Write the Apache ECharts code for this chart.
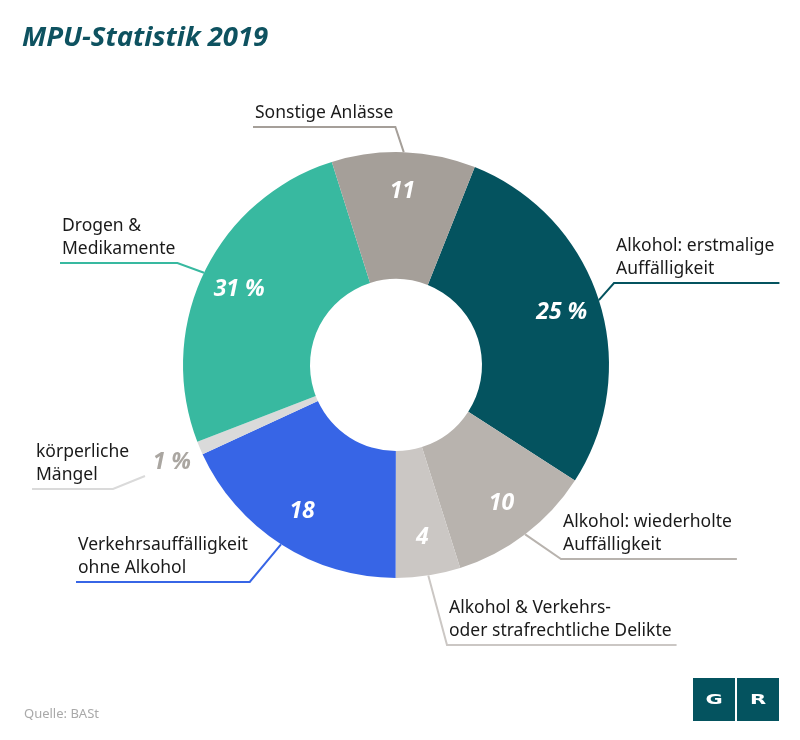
<!DOCTYPE html>
<html>
<head>
<meta charset="utf-8">
<script src="https://cdn.jsdelivr.net/npm/echarts@6/dist/echarts.min.js"></script>
<style>
  html, body { margin: 0; padding: 0; background: #ffffff; }
  #chart { width: 800px; height: 740px; }
</style>
</head>
<body>
<div id="chart"></div>
<script>
// ---- data ----
const categories = [
  'Alkohol: erstmalige\nAuffälligkeit',
  'Alkohol: wiederholte\nAuffälligkeit',
  'Alkohol & Verkehrs-\noder strafrechtliche Delikte',
  'Verkehrsauffälligkeit\nohne Alkohol',
  'körperliche\nMängel',
  'Drogen &\nMedikamente',
  'Sonstige Anlässe'
];
// numbers printed on the chart (percent)
const printedValues = [25, 10, 4, 18, 1, 31, 11];
const printedWithPercent = [true, false, false, false, true, true, false];
// slice sizes as drawn in the reference (percent)
const sliceShares = [28.1, 11, 4.9, 18.1, 1, 26, 10.9];

// ---- styles / layout ----
const sliceColors = ['#04535f', '#b8b3ae', '#cbc7c4', '#3765e6', '#dadada', '#38b9a0', '#a59f99'];
const CX = 396, CY = 365, R_IN = 86, R_OUT = 213;
// outer label anchors: [text left x, underline y, side of elbow]
const outerLabelPos = [
  [616, 283, 'left'],
  [563, 559, 'left'],
  [449, 645, 'left'],
  [78, 582, 'right'],
  [36, 489, 'right'],
  [62, 263, 'right'],
  [255, 127, 'right']
];

const chart = echarts.init(document.getElementById('chart'), null, { renderer: 'canvas' });

const mainData = categories.map((c, i) => ({
  name: c,
  value: sliceShares[i],
  itemStyle: { color: sliceColors[i] },
  labelLine: { lineStyle: { color: sliceColors[i], width: 2 } }
}));

const innerData = categories.map((c, i) => ({
  name: c,
  value: sliceShares[i],
  label: {
    formatter: printedValues[i] + (printedWithPercent[i] ? ' %' : ''),
    color: i === 4 ? '#aaa6a1' : '#ffffff'
  }
}));

const option = {
  backgroundColor: '#ffffff',
  animation: false,
  graphic: [
    { type: 'text', x: 22, y: 38,
      style: { text: 'MPU-Statistik 2019', fill: '#0e5260', align: 'left', verticalAlign: 'middle',
               font: 'italic bold 27.5px "Open Sans"' } },
    { type: 'text', x: 24, y: 714,
      style: { text: 'Quelle: BASt', fill: '#a9a9a9', align: 'left', verticalAlign: 'middle',
               font: '13px "Noto Sans"' } },
    { type: 'rect', shape: { x: 693, y: 678, width: 42, height: 43 }, style: { fill: '#04535f' } },
    { type: 'rect', shape: { x: 737, y: 678, width: 42, height: 43 }, style: { fill: '#04535f' } },
    { type: 'text', x: 714, y: 700, scaleX: 1.5,
      style: { text: 'G', fill: '#ffffff', align: 'center', verticalAlign: 'middle', font: 'bold 14px "DejaVu Sans"' } },
    { type: 'text', x: 758, y: 700, scaleX: 1.5,
      style: { text: 'R', fill: '#ffffff', align: 'center', verticalAlign: 'middle', font: 'bold 14px "DejaVu Sans"' } }
  ],
  series: [
    {
      type: 'pie',
      center: [CX, CY],
      radius: [R_IN, R_OUT],
      startAngle: 68.3,
      clockwise: true,
      silent: true,
      avoidLabelOverlap: false,
      data: mainData,
      label: {
        show: true,
        position: 'outside',
        formatter: '{b}',
        color: '#1a1a1a',
        fontFamily: 'Noto Sans',
        fontSize: 17.5,
        lineHeight: 23
      },
      labelLine: { show: true, length: 10, length2: 10, smooth: false },
      labelLayout: function (params) {
        const i = params.dataIndex;
        const pos = outerLabelPos[i];
        const w = params.labelRect.width;
        const x = pos[0], y = pos[1];
        let pts;
        const start = params.labelLinePoints ? params.labelLinePoints[0] : [x, y];
        if (i === 4) {
          pts = [[145, 476], [113, y], [x - 4, y]];
        } else if (pos[2] === 'left') {
          pts = [start, [x - 2, y], [x + w + 5, y]];
        } else {
          pts = [start, [x + w + 2, y], [x - 2, y]];
        }
        return { x: x, y: y - 2, align: 'left', verticalAlign: 'bottom', labelLinePoints: pts };
      },
      emphasis: { disabled: true }
    },
    {
      type: 'pie',
      center: [CX, CY],
      radius: [129, R_OUT],
      startAngle: 68.3,
      clockwise: true,
      silent: true,
      data: innerData,
      itemStyle: { color: 'rgba(0,0,0,0)' },
      label: {
        show: true,
        position: 'inside',
        rotate: 0,
        fontFamily: 'Open Sans',
        fontStyle: 'italic',
        fontWeight: 'bold',
        fontSize: 23
      },
      labelLine: { show: false },
      labelLayout: function (params) {
        if (params.dataIndex === 4) {
          return { x: 191, y: 462, align: 'right', verticalAlign: 'middle' };
        }
        return {};
      },
      emphasis: { disabled: true }
    }
  ]
};

chart.setOption(option);
</script>
</body>
</html>
